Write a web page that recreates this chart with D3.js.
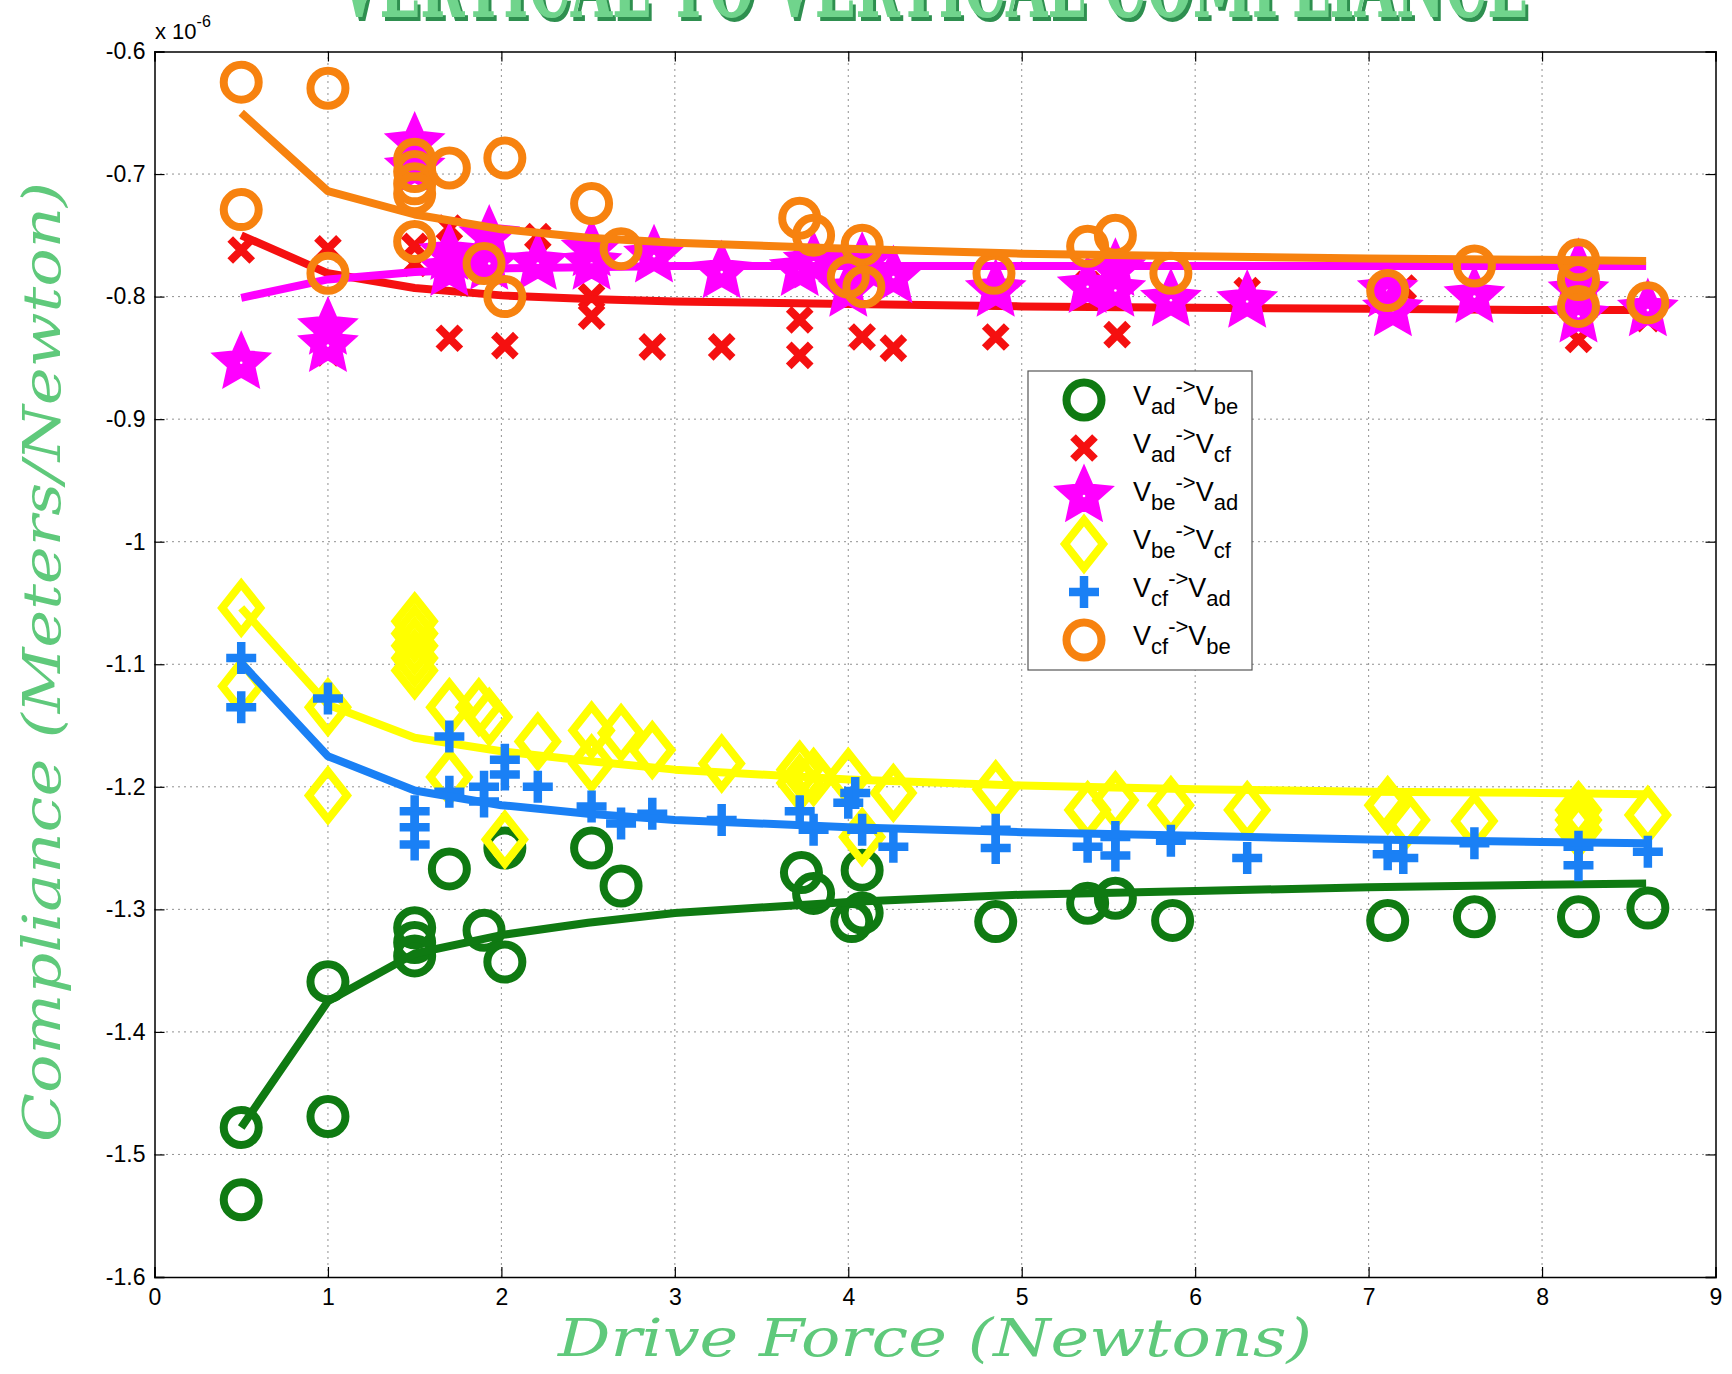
<!DOCTYPE html>
<html>
<head>
<meta charset="utf-8">
<script src="https://cdn.jsdelivr.net/npm/d3@7"></script>
<style>
  body { margin: 0; background: #fff; }
  svg { display: block; }
</style>
</head>
<body>
<svg id="chart" width="1732" height="1374"></svg>
<script>
// tick values and labels
const xTicks = [0, 1, 2, 3, 4, 5, 6, 7, 8, 9];
const yTicks = [-1.6, -1.5, -1.4, -1.3, -1.2, -1.1, -1.0, -0.9, -0.8, -0.7, -0.6];
const yTickLabels = ["-1.6", "-1.5", "-1.4", "-1.3", "-1.2", "-1.1", "-1", "-0.9", "-0.8", "-0.7", "-0.6"];

// measured points [drive force, compliance x1e-6]
const vadVbe = [[0.5,-1.478],[0.5,-1.537],[1.0,-1.359],[1.0,-1.469],[1.5,-1.315],[1.5,-1.327],[1.5,-1.338],
  [1.7,-1.267],[1.9,-1.317],[2.02,-1.250],[2.02,-1.343],[2.52,-1.250],[2.69,-1.281],[3.73,-1.270],[3.80,-1.287],
  [4.02,-1.310],[4.08,-1.303],[4.08,-1.268],[4.85,-1.310],[5.38,-1.295],[5.54,-1.291],[5.87,-1.309],
  [7.11,-1.309],[7.61,-1.306],[8.21,-1.306],[8.61,-1.299]];
const vadVcf = [[0.5,-0.762],[1.0,-0.761],[1.0,-0.846],[1.5,-0.759],[1.5,-0.773],[1.7,-0.744],[1.7,-0.834],
  [2.02,-0.840],[2.21,-0.751],[2.52,-0.800],[2.52,-0.816],[2.87,-0.841],[3.27,-0.841],[3.72,-0.819],[3.72,-0.848],
  [4.08,-0.833],[4.26,-0.842],[4.85,-0.833],[4.85,-0.800],[5.38,-0.790],[5.55,-0.831],[6.30,-0.795],[7.20,-0.793],
  [8.21,-0.835],[8.21,-0.812],[8.61,-0.818]];
const vbeVad = [[0.5,-0.854],[1.0,-0.826],[1.0,-0.840],[1.5,-0.675],[1.5,-0.695],[1.7,-0.765],[1.7,-0.778],
  [1.93,-0.751],[1.93,-0.773],[2.21,-0.773],[2.52,-0.762],[2.52,-0.773],[2.88,-0.767],[3.27,-0.780],[3.72,-0.778],
  [3.80,-0.772],[4.0,-0.795],[4.08,-0.773],[4.26,-0.784],[4.85,-0.795],[5.38,-0.792],[5.54,-0.778],[5.54,-0.795],
  [5.86,-0.803],[6.30,-0.804],[7.11,-0.795],[7.14,-0.811],[7.61,-0.800],[8.21,-0.778],[8.21,-0.796],[8.21,-0.816],
  [8.61,-0.811]];
const vbeVcf = [[0.5,-1.054],[0.5,-1.118],[1.0,-1.135],[1.0,-1.207],[1.5,-1.065],[1.5,-1.075],[1.5,-1.085],
  [1.5,-1.095],[1.5,-1.105],[1.7,-1.135],[1.7,-1.192],[1.87,-1.135],[1.93,-1.143],[2.02,-1.243],[2.21,-1.163],
  [2.52,-1.154],[2.52,-1.181],[2.69,-1.156],[2.87,-1.170],[3.27,-1.181],[3.72,-1.186],[3.72,-1.197],[3.80,-1.192],
  [4.0,-1.192],[4.08,-1.241],[4.26,-1.205],[4.85,-1.202],[5.38,-1.219],[5.54,-1.211],[5.86,-1.215],[6.30,-1.219],
  [7.11,-1.215],[7.22,-1.227],[7.61,-1.228],[8.21,-1.219],[8.21,-1.227],[8.21,-1.235],[8.61,-1.223]];
const vcfVad = [[0.5,-1.095],[0.5,-1.135],[1.0,-1.128],[1.5,-1.220],[1.5,-1.233],[1.5,-1.247],[1.7,-1.159],
  [1.7,-1.204],[1.9,-1.200],[1.9,-1.212],[2.02,-1.178],[2.02,-1.190],[2.21,-1.200],[2.52,-1.216],[2.69,-1.230],
  [2.87,-1.222],[3.27,-1.227],[3.72,-1.220],[3.80,-1.235],[4.04,-1.205],[4.0,-1.213],[4.08,-1.235],[4.26,-1.249],
  [4.85,-1.235],[4.85,-1.250],[5.38,-1.249],[5.54,-1.241],[5.54,-1.256],[5.86,-1.244],[6.30,-1.258],[7.11,-1.255],
  [7.20,-1.258],[7.61,-1.246],[8.21,-1.249],[8.21,-1.264],[8.61,-1.253]];
const vcfVbe = [[0.5,-0.625],[1.0,-0.630],[0.5,-0.729],[1.0,-0.781],[1.5,-0.688],[1.5,-0.698],[1.5,-0.708],
  [1.5,-0.716],[1.5,-0.755],[1.7,-0.695],[2.02,-0.687],[1.9,-0.773],[2.02,-0.800],[2.52,-0.724],[2.69,-0.761],
  [3.72,-0.736],[3.80,-0.750],[4.08,-0.758],[4.0,-0.784],[4.09,-0.792],[4.84,-0.781],[5.38,-0.759],[5.54,-0.750],
  [5.86,-0.781],[7.11,-0.795],[7.61,-0.775],[8.21,-0.770],[8.21,-0.786],[8.21,-0.808],[8.61,-0.805]];

// fitted curves, read at these drive forces
const fitX = [0.5, 1, 1.5, 2, 2.5, 3, 4, 5, 6, 7, 8, 8.6];
const fitVadVbe = [-1.478, -1.375, -1.336, -1.321, -1.311, -1.303, -1.294, -1.288, -1.285, -1.282, -1.280, -1.279];
const fitVadVcf = [-0.750, -0.781, -0.793, -0.799, -0.802, -0.804, -0.806, -0.808, -0.809, -0.810, -0.811, -0.811];
const fitVbeVad = [-0.801, -0.786, -0.780, -0.777, -0.776, -0.775, -0.775, -0.775, -0.775, -0.775, -0.775, -0.775];
const fitVbeVcf = [-1.054, -1.133, -1.160, -1.171, -1.179, -1.186, -1.194, -1.199, -1.202, -1.204, -1.205, -1.206];
const fitVcfVad = [-1.099, -1.175, -1.203, -1.215, -1.222, -1.227, -1.233, -1.237, -1.240, -1.243, -1.245, -1.246];
const fitVcfVbe = [-0.650, -0.714, -0.733, -0.745, -0.752, -0.756, -0.761, -0.765, -0.767, -0.769, -0.770, -0.771];

const series = [
  { from: "ad", to: "be", pts: vadVbe, fit: fitVadVbe, color: "#0f7a12", marker: "circle" },
  { from: "ad", to: "cf", pts: vadVcf, fit: fitVadVcf, color: "#f51010", marker: "x" },
  { from: "be", to: "ad", pts: vbeVad, fit: fitVbeVad, color: "#ff00ff", marker: "star" },
  { from: "be", to: "cf", pts: vbeVcf, fit: fitVbeVcf, color: "#ffff00", marker: "diamond" },
  { from: "cf", to: "ad", pts: vcfVad, fit: fitVcfVad, color: "#1a80f5", marker: "plus" },
  { from: "cf", to: "be", pts: vcfVbe, fit: fitVcfVbe, color: "#f7820f", marker: "circle" }
];

const svg = d3.select("#chart");
const W = 1732, H = 1374;
const plot = { left: 154.5, right: 1715.5, top: 51.5, bottom: 1277 };

const x = d3.scaleLinear().domain([0, 9]).range([plot.left, plot.right]);
const y = d3.scaleLinear().domain([-1.6, -0.6]).range([plot.bottom, plot.top]);

svg.append("rect").attr("width", W).attr("height", H).attr("fill", "#fff");

// dark green shadow under the title letters
const shadow = svg.append("defs").append("filter").attr("id", "titleShadow")
  .attr("x", "-5%").attr("y", "-20%").attr("width", "110%").attr("height", "150%");
shadow.append("feDropShadow").attr("dx", 3).attr("dy", 4).attr("stdDeviation", 0)
  .attr("flood-color", "#2f8f4f").attr("flood-opacity", 1);

// title, only its lower edge fits in the picture (as in the original)
svg.append("text").attr("x", 933).attr("y", 17).attr("text-anchor", "middle")
  .attr("font-family", "'DejaVu Serif', serif").attr("font-weight", "bold").attr("font-size", 96)
  .attr("fill", "#6fd48c").attr("filter", "url(#titleShadow)")
  .attr("textLength", 1190).attr("lengthAdjust", "spacingAndGlyphs").text("VERTICAL TO VERTICAL COMPLIANCE");

// grid
const grid = svg.append("g").attr("stroke", "#222").attr("stroke-width", 1).attr("stroke-dasharray", "1,5");
grid.selectAll(".gx").data(xTicks.slice(1, -1)).join("line")
  .attr("x1", d => x(d)).attr("x2", d => x(d)).attr("y1", plot.top).attr("y2", plot.bottom);
grid.selectAll(".gy").data(yTicks.slice(1, -1)).join("line")
  .attr("x1", plot.left).attr("x2", plot.right).attr("y1", d => y(d)).attr("y2", d => y(d));

// axes, ticks pointing inward like MATLAB
const fontAxis = "'Liberation Sans', Arial, sans-serif";
const xAxis = svg.append("g").attr("transform", `translate(0,${plot.bottom})`)
  .call(d3.axisBottom(x).tickValues(xTicks).tickSize(-10).tickPadding(12).tickFormat(d3.format("d")));
const xAxisTop = svg.append("g").attr("transform", `translate(0,${plot.top})`)
  .call(d3.axisTop(x).tickValues(xTicks).tickSize(-10).tickFormat(""));
const yAxis = svg.append("g").attr("transform", `translate(${plot.left},0)`)
  .call(d3.axisLeft(y).tickValues(yTicks).tickSize(-10).tickPadding(9)
    .tickFormat((d, i) => yTickLabels[i]));
const yAxisRight = svg.append("g").attr("transform", `translate(${plot.right},0)`)
  .call(d3.axisRight(y).tickValues(yTicks).tickSize(-10).tickFormat(""));
[xAxis, xAxisTop, yAxis, yAxisRight].forEach(g => {
  g.select(".domain").attr("stroke", "#000").attr("stroke-width", 1.5);
  g.selectAll(".tick line").attr("stroke", "#000").attr("stroke-width", 1.2);
  g.selectAll("text").attr("font-family", fontAxis).attr("font-size", 23).attr("fill", "#000");
});

// exponent note
svg.append("text").attr("x", 155).attr("y", 39).attr("font-family", fontAxis).attr("font-size", 22)
  .text("x 10").append("tspan").attr("dy", -12).attr("font-size", 16).text("-6");

// marker drawing
function star(R, r) {
  const p = [];
  for (let i = 0; i < 10; i++) {
    const a = -Math.PI / 2 + i * Math.PI / 5;
    const rr = i % 2 ? r : R;
    p.push([rr * Math.cos(a), rr * Math.sin(a)]);
  }
  return "M" + p.map(q => q.join(",")).join("L") + "Z";
}
function drawMarker(g, type, color) {
  if (type === "circle") {
    g.append("circle").attr("r", 17.5).attr("fill", "none").attr("stroke", color).attr("stroke-width", 8);
  } else if (type === "x") {
    g.append("path").attr("d", "M-11,-11L11,11M-11,11L11,-11").attr("stroke", color).attr("stroke-width", 8);
  } else if (type === "star") {
    g.append("path").attr("d", star(30, 14)).attr("fill", color).attr("stroke", color)
      .attr("stroke-width", 2).attr("stroke-linejoin", "miter");
    g.append("circle").attr("r", 1.3).attr("fill", "#fff");
  } else if (type === "diamond") {
    g.append("path").attr("d", "M0,-24L19,0L0,24L-19,0Z").attr("fill", "none").attr("stroke", color)
      .attr("stroke-width", 8).attr("stroke-linejoin", "miter");
  } else if (type === "plus") {
    g.append("path").attr("d", "M-15,0L15,0M0,-16L0,16").attr("stroke", color).attr("stroke-width", 8.5);
  }
}

const line = d3.line().x(d => x(d[0])).y(d => y(d[1]));

// each series: markers then its fitted line
series.forEach(s => {
  const g = svg.append("g");
  g.selectAll("g.m").data(s.pts).join("g").attr("class", "m")
    .attr("transform", d => `translate(${x(d[0])},${y(d[1])})`)
    .each(function () { drawMarker(d3.select(this), s.marker, s.color); });
  g.append("path").datum(fitX.map((v, i) => [v, s.fit[i]]))
    .attr("d", line).attr("fill", "none").attr("stroke", s.color).attr("stroke-width", 8)
    .attr("stroke-linejoin", "round");
});

// legend
const lg = svg.append("g").attr("transform", "translate(1028,371)");
lg.append("rect").attr("width", 224).attr("height", 299).attr("fill", "#fff")
  .attr("stroke", "#555").attr("stroke-width", 1.2);
series.forEach((s, i) => {
  const ry = 29 + i * 48;
  const m = lg.append("g").attr("transform", `translate(56,${ry})`);
  drawMarker(m, s.marker, s.color);
  const t = lg.append("text").attr("x", 105).attr("y", ry + 5)
    .attr("font-family", fontAxis).attr("font-size", 27).attr("fill", "#000");
  t.append("tspan").text("V");
  t.append("tspan").attr("dy", 9).attr("font-size", 22).text(s.from);
  t.append("tspan").attr("dy", -20).attr("font-size", 22).text("->");
  t.append("tspan").attr("dy", 11).text("V");
  t.append("tspan").attr("dy", 9).attr("font-size", 22).text(s.to);
});

// axis titles
const labelColor = "#5fc97b";
svg.append("text").attr("x", 935).attr("y", 1356).attr("text-anchor", "middle")
  .attr("font-family", "'DejaVu Serif', serif").attr("font-style", "italic").attr("font-size", 52)
  .attr("fill", labelColor).attr("textLength", 754).attr("lengthAdjust", "spacingAndGlyphs")
  .text("Drive Force (Newtons)");
svg.append("text").attr("transform", "translate(60,662) rotate(-90)").attr("text-anchor", "middle")
  .attr("font-family", "'DejaVu Serif', serif").attr("font-style", "italic").attr("font-size", 52)
  .attr("fill", labelColor).attr("textLength", 960).attr("lengthAdjust", "spacingAndGlyphs")
  .text("Compliance (Meters/Newton)");
</script>
</body>
</html>
